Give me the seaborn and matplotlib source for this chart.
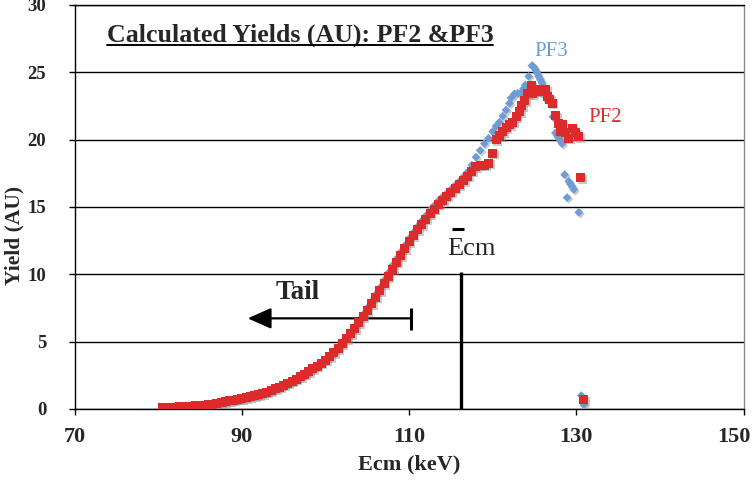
import matplotlib
matplotlib.use("Agg")
import matplotlib.pyplot as plt
import matplotlib.patheffects as pe
import matplotlib.transforms as mtransforms
from matplotlib.lines import Line2D
import pandas as pd
import seaborn as sns

# ---- data: calculated yields (arbitrary units) vs centre-of-mass energy (keV) ----
pf2_energy = [
    80.5, 81.0, 81.5, 82.0, 82.5, 83.0, 83.5, 84.0, 84.5, 85.0, 85.5, 86.0, 86.5, 87.0,
    87.5, 88.0, 88.5, 89.0, 89.5, 90.0, 90.5, 91.0, 91.5, 92.0, 92.5, 93.0, 93.5, 94.0,
    94.5, 95.0, 95.5, 96.0, 96.5, 97.0, 97.5, 98.0, 98.5, 99.0, 99.5, 100.0, 100.5, 101.0,
    101.5, 102.0, 102.5, 103.0, 103.5, 104.0, 104.5, 105.0, 105.5, 106.0, 106.5, 107.0,
    107.5, 108.0, 108.5, 109.0, 109.5, 110.0, 110.5, 111.0, 111.5, 112.0, 112.5, 113.0,
    113.5, 114.0, 114.5, 115.0, 115.5, 116.0, 116.5, 117.0, 117.5, 118.0, 118.5, 119.0,
    119.5, 120.0, 120.4, 120.8, 121.2, 121.6, 122.0, 122.4, 122.8, 123.2, 123.5, 123.8,
    124.2, 124.6, 124.8, 125.1, 125.4, 125.7, 126.0, 126.3, 126.5, 126.8, 127.1, 127.5,
    127.9, 128.1, 128.3, 128.7, 129.1, 129.5, 129.9, 130.3, 130.5, 130.9,
]
pf2_yield = [
    0.10, 0.11, 0.12, 0.14, 0.15, 0.17, 0.19, 0.21, 0.23, 0.26, 0.29, 0.32, 0.36, 0.40,
    0.45, 0.52, 0.60, 0.66, 0.72, 0.78, 0.85, 0.92, 0.99, 1.07, 1.16, 1.26, 1.37, 1.49,
    1.62, 1.76, 1.91, 2.06, 2.22, 2.40, 2.58, 2.78, 2.98, 3.19, 3.40, 3.62, 3.88, 4.18,
    4.50, 4.85, 5.20, 5.58, 5.98, 6.40, 6.85, 7.32, 7.80, 8.30, 8.80, 9.32,
    9.85, 10.38, 10.90, 11.40, 11.90, 12.40, 12.85, 13.30, 13.70, 14.10, 14.50, 14.85,
    15.20, 15.50, 15.80, 16.10, 16.40, 16.65, 16.95, 17.30, 17.65, 18.00, 18.10, 18.10,
    18.25, 19.00, 20.00, 20.30, 20.60, 20.90, 21.10, 21.30, 21.70, 22.10, 22.50, 22.90,
    23.40, 24.00, 23.40, 23.60, 23.70, 23.60, 23.55, 23.70, 23.20, 23.00, 22.70, 21.80,
    21.20, 20.60, 21.10, 20.50, 20.10, 20.80, 20.50, 20.20, 17.20, 0.70,
]

pf3_energy = [
    80.5, 81.0, 81.5, 82.0, 82.5, 83.0, 83.5, 84.0, 84.5, 85.0, 85.5, 86.0, 86.5, 87.0,
    87.5, 88.0, 88.5, 89.0, 89.5, 90.0, 90.5, 91.0, 91.5, 92.0, 92.5, 93.0, 93.5, 94.0,
    94.5, 95.0, 95.5, 96.0, 96.5, 97.0, 97.5, 98.0, 98.5, 99.0, 99.5, 100.0, 100.5, 101.0,
    101.5, 102.0, 102.5, 103.0, 103.5, 104.0, 104.5, 105.0, 105.5, 106.0, 106.5, 107.0,
    107.5, 108.0, 108.5, 109.0, 109.5, 110.0, 110.5, 111.0, 111.5, 112.0, 112.5, 113.0,
    113.5, 114.0, 114.5, 115.0, 115.5, 116.0, 116.5, 117.0, 117.5, 118.0, 118.5, 119.0,
    119.5, 120.0, 120.4, 120.8, 121.2, 121.6, 122.0, 122.2, 122.6, 123.0, 123.4, 123.7,
    123.9, 124.3, 124.7, 124.9, 125.1, 125.3, 125.5, 125.7, 125.9, 126.1, 126.4, 126.7,
    127.0, 127.2, 127.5, 127.7, 127.9, 128.1, 128.3, 128.6, 128.9, 129.1, 129.3, 129.5,
    129.7, 130.3, 130.6, 130.9,
]
pf3_yield = [
    0.08, 0.09, 0.10, 0.12, 0.13, 0.15, 0.17, 0.19, 0.21, 0.24, 0.27, 0.30, 0.34, 0.38,
    0.43, 0.50, 0.58, 0.64, 0.70, 0.76, 0.83, 0.90, 0.97, 1.05, 1.14, 1.24, 1.35, 1.47,
    1.60, 1.74, 1.89, 2.04, 2.21, 2.39, 2.58, 2.78, 2.99, 3.21, 3.43, 3.66, 3.93, 4.24,
    4.57, 4.93, 5.30, 5.70, 6.10, 6.55, 7.00, 7.50, 8.00, 8.50, 9.00, 9.55,
    10.10, 10.65, 11.15, 11.65, 12.15, 12.65, 13.10, 13.55, 13.95, 14.35, 14.75, 15.10,
    15.45, 15.75, 16.00, 16.30, 16.60, 16.90, 17.25, 17.60, 18.10, 18.70, 19.20, 19.70,
    20.10, 20.60, 21.00, 21.30, 21.75, 22.20, 22.70, 23.10, 23.40, 23.45, 23.50, 23.80,
    24.05, 24.70, 25.50, 25.40, 25.20, 24.95, 24.70, 24.45, 24.20, 23.90, 23.60, 23.25,
    22.90, 21.70, 20.50, 20.30, 20.10, 19.90, 19.70, 17.40, 15.70, 16.90, 16.70, 16.50,
    16.30, 14.60, 1.00, 0.30,
]

x_ticks = [70, 90, 110, 130, 150]
y_ticks = [0, 5, 10, 15, 20, 25, 30]

pf2_color = "#dd2b2b"
pf3_color = "#6f9bd6"

# ---- styling ----
sns.set_theme(style="white")
plt.rcParams["font.family"] = ["Liberation Serif", "DejaVu Serif"]

fig = plt.figure(figsize=(7.53, 4.84), dpi=100)
ax = fig.add_axes([0.0992, 0.155, 0.8882, 0.8347])

df3 = pd.DataFrame({"energy": pf3_energy, "yield": pf3_yield})
df2 = pd.DataFrame({"energy": pf2_energy, "yield": pf2_yield})

shadow = [pe.SimplePatchShadow(offset=(1.2, -1.2), shadow_rgbFace="0.55", alpha=0.45), pe.Normal()]

sns.scatterplot(data=df3, x="energy", y="yield", ax=ax, marker="D", s=20,
                color=pf3_color, linewidth=0, zorder=3)
sns.scatterplot(data=df2, x="energy", y="yield", ax=ax, marker="s", s=42,
                color=pf2_color, linewidth=0, zorder=4)
for coll in ax.collections:
    coll.set_path_effects(shadow)

ax.set_xlim(70, 150)
ax.set_ylim(0, 30)
ax.set_xticks(x_ticks)
ax.set_yticks(y_ticks)
ax.set_xticklabels([str(t) for t in x_ticks])
ax.set_yticklabels([str(t) for t in y_ticks])

# horizontal gridlines only
ax.yaxis.grid(True, color="black", linewidth=1.0)
ax.xaxis.grid(False)
ax.set_axisbelow(True)

for side in ["left", "bottom", "top"]:
    ax.spines[side].set_color("black")
    ax.spines[side].set_linewidth(1.0)
ax.spines["right"].set_color("#8c8c8c")
ax.spines["right"].set_linewidth(1.0)

ax.tick_params(axis="both", which="major", direction="out", length=4.5, width=1.0,
               color="black", bottom=True, left=True)
ax.tick_params(axis="y", pad=16, labelsize=13.5)
ax.tick_params(axis="x", pad=8.5, labelsize=16)
for lab in ax.get_xticklabels() + ax.get_yticklabels():
    lab.set_fontweight("bold")
# keep the last x tick label inside the figure edge
last = ax.get_xticklabels()[-1]
last.set_transform(last.get_transform() +
                   mtransforms.ScaledTranslation(-10 / 100, 0, fig.dpi_scale_trans))

ax.set_xlabel("Ecm (keV)", fontsize=16, fontweight="bold")
ax.set_ylabel("Yield (AU)", fontsize=15.5, fontweight="bold")
ax.xaxis.set_label_coords(0.5, -0.112)
ax.xaxis.label.set_va("top")
ax.yaxis.set_label_coords(-0.075, 0.43)

# title inside the plot area, underlined
title_pos = (0.0478, 0.909)
title = ax.text(*title_pos, "Calculated Yields (AU): PF2 &PF3", transform=ax.transAxes,
                fontsize=18.6, fontweight="bold", ha="left", va="baseline", zorder=6)

# series labels
ax.text(124.95, 26.2, "PF3", color=pf3_color, fontsize=15, ha="left", va="baseline")
ax.text(131.5, 21.3, "PF2", color=pf2_color, fontsize=15, ha="left", va="baseline")

# mean-energy marker
ax.plot([116.2, 116.2], [0, 10.2], color="black", linewidth=2.4, zorder=5,
        solid_capstyle="butt")
ax.text(114.55, 11.4, "Ecm", fontsize=19, ha="left", va="baseline")
ax.plot([115.15, 116.6], [13.35, 13.35], color="black", linewidth=2.2,
        solid_capstyle="butt")

# low-energy tail arrow
ax.annotate("", xy=(90.7, 6.73), xytext=(110.2, 6.73),
            arrowprops=dict(arrowstyle="-|>,head_length=0.9,head_width=0.4",
                            mutation_scale=16, lw=1.6, color="black",
                            shrinkA=0, shrinkB=0))
ax.plot([110.2, 110.2], [5.86, 7.52], color="black", linewidth=2.2, solid_capstyle="butt")
ax.text(96.7, 8.15, "Tail", fontsize=19.5, fontweight="bold", ha="center", va="baseline")

# underline the title
fig.canvas.draw()
bb = title.get_window_extent()
base_y = ax.transAxes.transform(title_pos)[1]
uy = (base_y - 3.0) / fig.bbox.height
fig.add_artist(Line2D([bb.x0 / fig.bbox.width, bb.x1 / fig.bbox.width], [uy, uy],
                      color="black", linewidth=1.4, transform=fig.transFigure))

fig.savefig("out.png", dpi=100)
